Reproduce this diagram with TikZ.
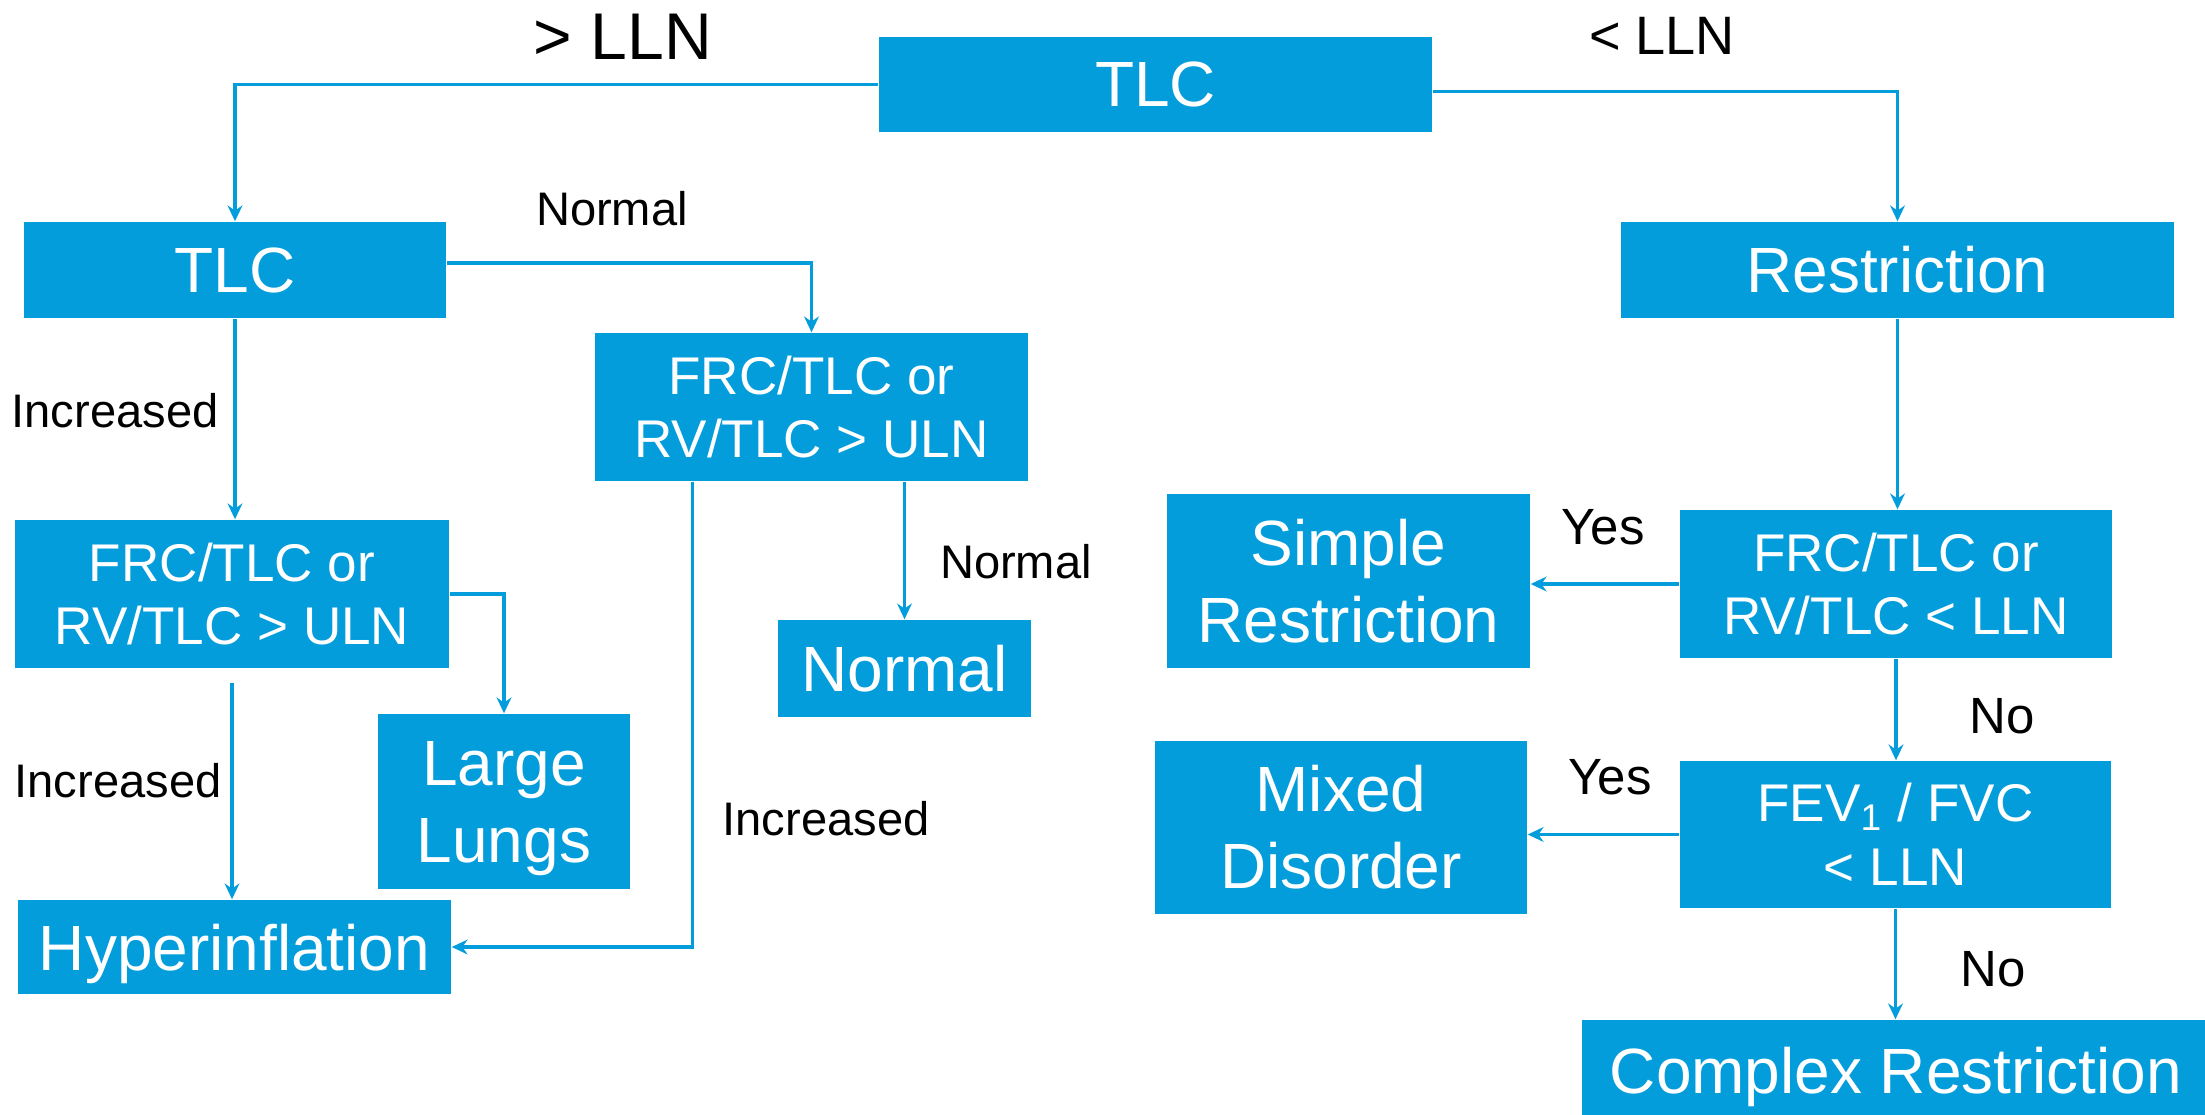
\documentclass[tikz,border=0pt]{standalone}
\usepackage{fontspec}
\setmainfont{Liberation Sans}
\usetikzlibrary{arrows.meta}
\definecolor{flowblue}{RGB}{3,157,220}

\begin{document}
\begin{tikzpicture}[x=1cm,y=-1cm]
		\useasboundingbox (0,0) rectangle (22.05,11.14);
		\clip (0,0) rectangle (22.05,11.14);
		\begin{scope}[every node/.style={rectangle,fill=flowblue,text=white,align=center,inner sep=0pt,
			font=\fontsize{18.2}{21.9}\selectfont}]
			\node[minimum width=5.53cm,minimum height=0.95cm] (T) at (11.555,0.845) {TLC};
			\node[minimum width=4.22cm,minimum height=0.96cm] (T2) at (2.35,2.70) {TLC};
			\node[minimum width=5.53cm,minimum height=0.96cm] (R) at (18.975,2.70) {Restriction};
			\node[minimum width=4.33cm,minimum height=1.48cm,font=\fontsize{15.1}{18.1}\selectfont] (FM) at (8.115,4.07) {FRC/TLC or\\RV/TLC > ULN};
			\node[minimum width=4.34cm,minimum height=1.48cm,font=\fontsize{15.1}{18.1}\selectfont] (FL) at (2.32,5.94) {FRC/TLC or\\RV/TLC > ULN};
			\node[minimum width=4.32cm,minimum height=1.48cm,font=\fontsize{15.1}{18.1}\selectfont] (FR) at (18.96,5.84) {FRC/TLC or\\RV/TLC < LLN};
			\node[minimum width=2.52cm,minimum height=1.75cm,text depth=0pt] (L) at (5.04,8.015) {Large\\Lungs};
			\node[minimum width=2.53cm,minimum height=0.97cm] (N) at (9.045,6.685) {Normal};
			\node[minimum width=4.33cm,minimum height=0.94cm,text depth=0pt] (H) at (2.345,9.47) {Hyperinflation};
			\node[minimum width=3.63cm,minimum height=1.74cm] (S) at (13.485,5.81) {Simple\\Restriction};
			\node[minimum width=4.31cm,minimum height=1.47cm,font=\fontsize{15.1}{18.1}\selectfont] (F) at (18.955,8.345) {FEV\textsubscript{1} / FVC\\< LLN};
			\node[minimum width=3.72cm,minimum height=1.73cm] (M) at (13.41,8.275) {Mixed\\Disorder};
			\node[minimum width=6.28cm,minimum height=1.0cm,text depth=0pt] (C) at (18.96,10.70) {Complex Restriction};
		\end{scope}
		\begin{scope}[every node/.style={inner sep=0pt,text=black,font=\fontsize{13.4}{16}\selectfont}]
			\node[font=\fontsize{18.8}{22}\selectfont] (gt) at (6.23,0.37) {> LLN};
			\node[font=\fontsize{15.4}{18}\selectfont] (lt) at (16.62,0.36) {< LLN};
			\node (nA) at (6.12,2.09) {Normal};
			\node (iA) at (1.15,4.11) {Increased};
			\node (iB) at (1.18,7.81) {Increased};
			\node (iC) at (8.26,8.19) {Increased};
			\node (nB) at (10.16,5.62) {Normal};
			\node[font=\fontsize{14.5}{17}\selectfont] (yA) at (16.03,5.27) {Yes};
			\node[font=\fontsize{14.5}{17}\selectfont] (oA) at (20.02,7.16) {No};
			\node[font=\fontsize{14.5}{17}\selectfont] (yB) at (16.10,7.77) {Yes};
			\node[font=\fontsize{14.5}{17}\selectfont] (oB) at (19.93,9.69) {No};
		\end{scope}
		\begin{scope}[>={Stealth[length=4.5pt,width=4.2pt]},draw=flowblue,line width=0.9pt]
			\draw[->] (T.west) -| (T2.north);
			\draw[->] ([yshift=-0.07cm]T.east) -| (R.north);
			\draw[->] ([yshift=0.07cm]T2.east) -| (FM.north);
			\draw[->] (T2.south) -- (T2.south |- FL.north);
			\draw[->] (FL.east) -| (L.north);
			\draw[->] ([yshift=-0.14cm]FL.south) -- (FL.south |- H.north);
			\draw[->] ([xshift=0.98cm]FM.south west) |- (H.east);
			\draw[->] (N.north |- FM.south) -- (N.north);
			\draw[->] (R.south) -- (R.south |- FR.north);
			\draw[->] (FR.west) -- (FR.west -| S.east);
			\draw[->] (FR.south) -- (FR.south |- F.north);
			\draw[->] (F.west) -- (F.west -| M.east);
			\draw[->] (F.south) -- (F.south |- C.north);
		\end{scope}
	\end{tikzpicture}
\end{document}
